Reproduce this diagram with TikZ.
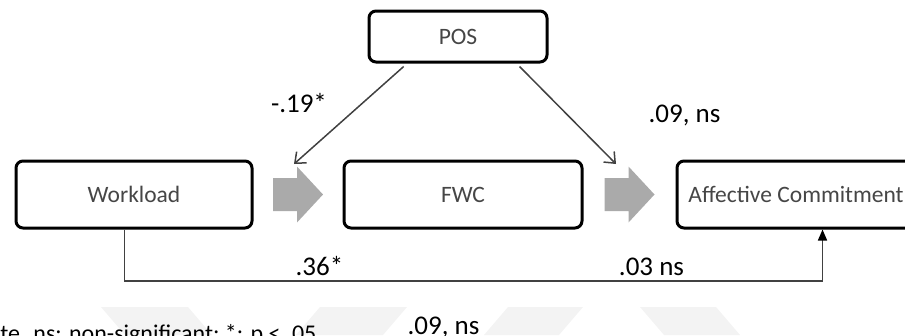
\documentclass[tikz,border=0pt]{standalone}
\usepackage{fontspec}
\setmainfont{Carlito}
\usepackage{tikz}
\usetikzlibrary{arrows.meta,calc}

\definecolor{boxtext}{RGB}{70,70,70}
\definecolor{linegray}{RGB}{65,65,65}
\definecolor{blockgray}{RGB}{170,170,170}
\definecolor{markgray}{RGB}{243,243,243}

\tikzset{
  var/.style={draw=black, line width=3pt, rounded corners=7pt, fill=white,
    minimum width=236pt, minimum height=67pt, inner sep=0pt,
    text=boxtext, font=\fontsize{23.5}{28}\selectfont},
  coef/.style={anchor=base, font=\fontsize{27}{32}\selectfont},
  effect/.style={draw=linegray, line width=1.5pt},
}

\begin{document}
\begin{tikzpicture}[x=1pt,y=-1pt]
    \useasboundingbox (0,0) rectangle (905,335);
    \clip (0,0) rectangle (905,335);
    % Faint chevrons along the bottom
    \foreach \a/\b/\c/\d in {101/188/212/125,320/407/383/296,508/583/559/484,640/716/740/664}
      \fill [markgray] (\a,307) -- (\b,307) -- (\c,335) -- (\d,335) -- cycle;
    % Variables
    \node [var, minimum width=178pt, minimum height=51pt] (pos) at (458,36.5) {POS};
    \node [var] (wl) at (134,194.5) {Workload};
    \node [var, minimum width=238pt] (fwc) at (463,194.5) {FWC};
    \node [var, minimum width=238pt] (ac) at (796,194.5) {Affective Commitment};
    % Draw block arrows between the boxes
    \foreach \a/\b in {wl/fwc,fwc/ac} {
      \coordinate (g) at ($(\a.east)!.5!(\b.west)$);
      \begin{scope}[shift={(g)}]
        \fill [blockgray] (-25,-16.5) -- (-1,-16.5) -- (-1,-28) -- (25,0)
          -- (-1,28) -- (-1,16.5) -- (-25,16.5) -- cycle;
      \end{scope}
    }
    % Draw moderation arrows
    \coordinate (m1) at (294,164);
    \coordinate (m2) at (616,164);
    \draw [effect, -{Straight Barb[length=9pt,width=15pt]}]
      ($(pos.south west)!.2!(pos.south east)+(0,3)$) -- (m1);
    \draw [effect, -{Straight Barb[length=9pt,width=15pt]}]
      ($(pos.south west)!.84!(pos.south east)+(0,3)$) -- (m2);
    % Draw direct effect
    \coordinate (low) at (0,281);
    \coordinate (d1) at ($(wl.south west)!.46!(wl.south east)$);
    \coordinate (d2) at ($(ac.south west)!.61!(ac.south east)$);
    \draw [effect, -{Triangle[length=11pt,width=9pt,color=black]}]
      (d1) -- (d1 |- low) -- (d2 |- low) -- (d2);
    % Coefficients
    \node [coef] (c1) at (299,112) {-.19*};
    \node [coef] (c2) at (684.5,122) {.09, ns};
    \node [coef] (c3) at (319.5,275) {.36*};
    \node [coef] (c4) at (651.5,275) {.03 ns};
    \node [coef] (c5) at (443.5,334) {.09, ns};
    \node [anchor=base east, font=\fontsize{24}{28}\selectfont] (note) at (320,341)
      {Note. ns: non-significant; *: p < .05};
\end{tikzpicture}
\end{document}
